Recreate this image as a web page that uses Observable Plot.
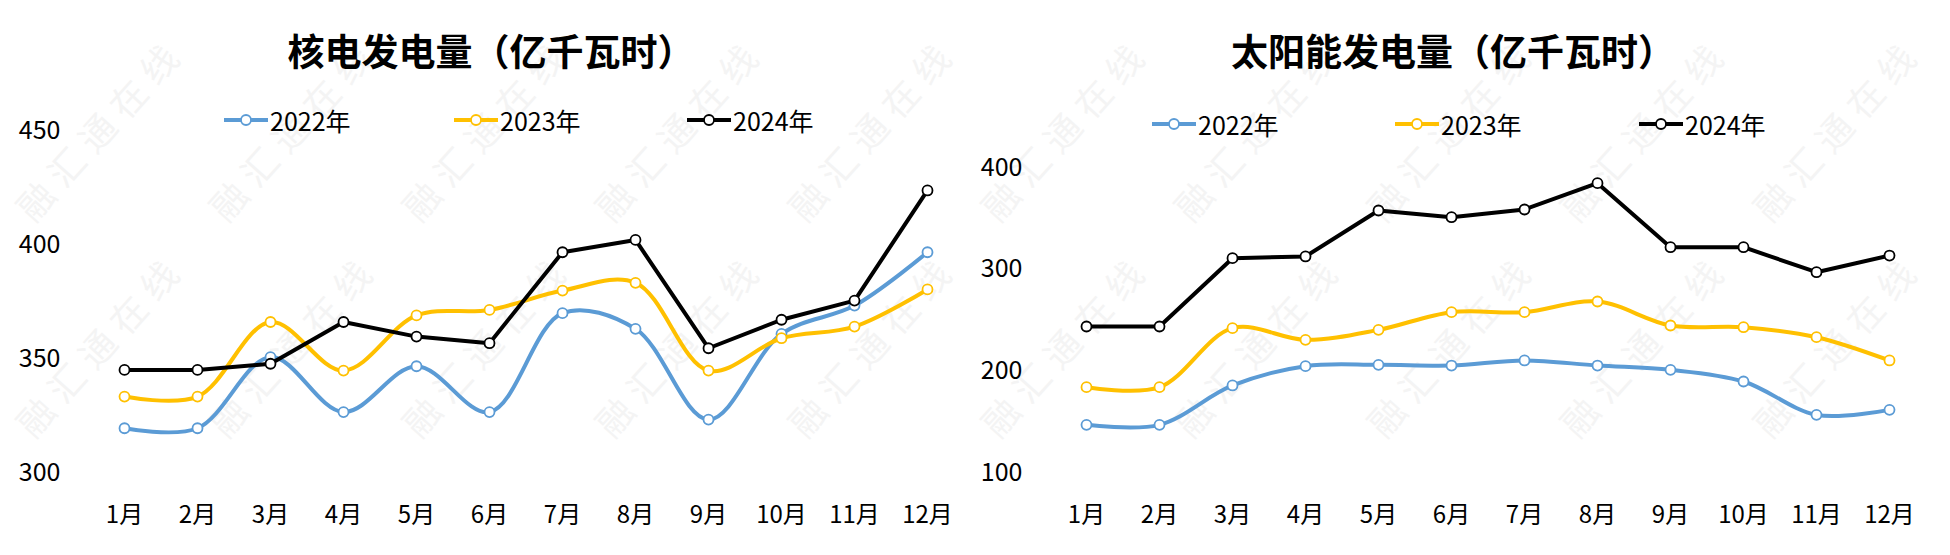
<!DOCTYPE html>
<html>
<head>
<meta charset="utf-8">
<script src="https://cdn.jsdelivr.net/npm/d3@7"></script>
<script src="https://cdn.jsdelivr.net/npm/@observablehq/plot@0.6"></script>
<style>
  body { margin:0; background:#fff; width:1950px; height:555px; overflow:hidden; position:relative;
         font-family:"Noto Sans CJK SC","Noto Sans",sans-serif; color:#000; }
  #wm { position:absolute; left:0; top:0; width:1950px; height:555px; overflow:hidden; z-index:0; }
  .wmt { position:absolute; font-size:36px; line-height:50px; color:#f4f4f4; white-space:nowrap; transform-origin:0 50%;
         transform:rotate(-48deg); letter-spacing:10px; }
  .panel { position:absolute; top:0; width:975px; height:555px; z-index:1; }
  .title { position:absolute; top:24px; font-weight:bold; font-size:37px; line-height:52px;
           white-space:nowrap; transform:translateX(-50%); }
  .leg { position:absolute; display:flex; align-items:center; font-size:25px; line-height:30px;
         transform:translateY(-50%); white-space:nowrap; }
  .leg svg { display:block; margin-right:2px; }
  .chart { position:absolute; top:100px; left:0; }
</style>
</head>
<body>
<div id="wm"></div>
<script>
// ---------- data ----------
const months = ["1月","2月","3月","4月","5月","6月","7月","8月","9月","10月","11月","12月"];
const years = ["2022年","2023年","2024年"];
const colors = ["#5b9bd5","#ffc000","#000000"];

const nuclear2022 = [319.4,319.4,350.6,326.5,346.6,326.5,369.9,363.0,323.2,360.8,373.2,396.6];
const nuclear2023 = [333.3,333.3,366.0,344.7,368.9,371.3,379.8,383.2,344.7,358.9,364.0,380.3];
const nuclear2024 = [345.0,345.0,347.7,366.0,359.6,356.7,396.6,402.0,354.5,367.0,375.4,423.7];
const nuclearTicks = [300,350,400,450];

const solar2022 = [146.9,146.9,185.6,204.6,205.9,205.2,210.2,205.2,201.0,189.5,156.7,161.6];
const solar2023 = [183.9,183.9,242.0,230.5,240.3,257.7,257.7,268.2,244.6,242.9,233.1,210.2];
const solar2024 = [243.6,243.6,310.8,312.5,357.7,351.1,358.7,384.6,321.6,321.6,297.0,313.4];
const solarTicks = [100,200,300,400];

// ---------- watermark (faint background decoration) ----------
const wm = document.getElementById("wm");
for (let c = 0; c < 10; c++) {
  for (let r = 0; r < 2; r++) {
    const d = document.createElement("div");
    d.className = "wmt";
    d.textContent = "融汇通在线";
    d.style.left = (22 + c * 193) + "px";
    d.style.top = (188 + r * 216) + "px";
    wm.appendChild(d);
  }
}

function legendItem(parent, x, y, label, color) {
  const d = document.createElement("div");
  d.className = "leg";
  d.style.left = x + "px";
  d.style.top = y + "px";
  d.innerHTML = `<svg width="44" height="16"><line x1="0" y1="8" x2="44" y2="8" stroke="${color}" stroke-width="4"/>` +
    `<circle cx="22" cy="8" r="5" fill="#fff" stroke="${color}" stroke-width="1.8"/></svg><span>${label}</span>`;
  parent.appendChild(d);
}

function makePanel({left, title, titleX, legendXs, legendY, series, ticks, domain, marginLeft, marginRight, marginTop}) {
  const panel = document.createElement("div");
  panel.className = "panel";
  panel.style.left = left + "px";
  document.body.appendChild(panel);

  const t = document.createElement("div");
  t.className = "title";
  t.style.left = titleX + "px";
  t.textContent = title;
  panel.appendChild(t);

  const rows = [];
  series.forEach((vals, i) => vals.forEach((v, j) => rows.push({year: years[i], month: months[j], value: v})));

  const marks = [];
  series.forEach((vals, i) => {
    const data = rows.filter(r => r.year === years[i]);
    marks.push(Plot.line(data, {x: "month", y: "value", stroke: colors[i], strokeWidth: 4,
      curve: i < 2 ? "catmull-rom" : "linear"}));
    marks.push(Plot.dot(data, {x: "month", y: "value", r: 5, fill: "#fff", stroke: colors[i], strokeWidth: 1.8}));
  });

  const chart = Plot.plot({
    width: 975,
    height: 455,
    marginLeft, marginRight, marginTop, marginBottom: 83,
    style: {fontSize: "25px", fontFamily: '"Noto Sans CJK SC","Noto Sans",sans-serif', color: "#000", background: "transparent"},
    x: {type: "point", domain: months, padding: 0, label: null},
    y: {domain, ticks, label: null},
    marks: [
      Plot.axisX({tickSize: 0, tickPadding: 33, fontSize: 24, label: null}),
      Plot.axisY({ticks, tickSize: 0, tickPadding: 63, label: null}),
      ...marks
    ]
  });
  chart.classList.add("chart");
  panel.appendChild(chart);

  legendXs.forEach((lx, i) => legendItem(panel, lx, legendY, years[i], colors[i]));
}

makePanel({
  left: 0, title: "核电发电量（亿千瓦时）", titleX: 491,
  legendXs: [224, 454, 687], legendY: 120,
  series: [nuclear2022, nuclear2023, nuclear2024],
  ticks: nuclearTicks, domain: [300, 450],
  marginLeft: 123, marginRight: 48, marginTop: 30
});

makePanel({
  left: 975, title: "太阳能发电量（亿千瓦时）", titleX: 478,
  legendXs: [177, 420, 664], legendY: 124,
  series: [solar2022, solar2023, solar2024],
  ticks: solarTicks, domain: [100, 400],
  marginLeft: 110, marginRight: 61, marginTop: 67
});
</script>
</body>
</html>
